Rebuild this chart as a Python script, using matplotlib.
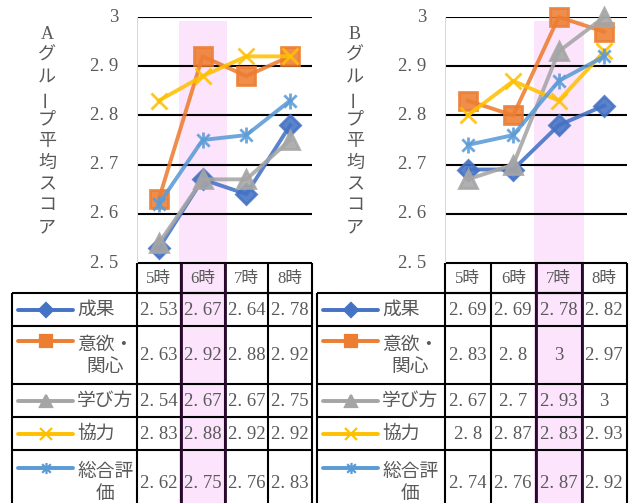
import numpy as np
import matplotlib.pyplot as plt
from matplotlib.path import Path
from matplotlib.patches import Rectangle

plt.rcParams['font.family'] = ['Liberation Serif', 'Noto Sans CJK JP', 'DejaVu Sans']

hours = ['5時', '6時', '7時', '8時']
names = ['成果', '意欲・\n関心', '学び方', '協力', '総合評\n価']

# group A
a_seika = [2.53, 2.67, 2.64, 2.78]
a_iyoku = [2.63, 2.92, 2.88, 2.92]
a_manabi = [2.54, 2.67, 2.67, 2.75]
a_kyoryoku = [2.83, 2.88, 2.92, 2.92]
a_sogo = [2.62, 2.75, 2.76, 2.83]

# group B
b_seika = [2.69, 2.69, 2.78, 2.82]
b_iyoku = [2.83, 2.8, 3, 2.97]
b_manabi = [2.67, 2.7, 2.93, 3]
b_kyoryoku = [2.8, 2.87, 2.83, 2.93]
b_sogo = [2.74, 2.76, 2.87, 2.92]

yticks = [2.5, 2.6, 2.7, 2.8, 2.9, 3.0]

asterisk = Path([(-1, -1), (1, 1), (-1, 1), (1, -1), (0, -1.3), (0, 1.3)],
                [Path.MOVETO, Path.LINETO, Path.MOVETO, Path.LINETO,
                 Path.MOVETO, Path.LINETO])
styles = [('#4472C4', 'D', 10.5),
          ('#ED7D31', 's', 12.5),
          ('#A5A5A5', '^', 13),
          ('#FFC000', 'x', 11.5),
          ('#5B9BD5', asterisk, 11.5)]

TXT = '#595959'
PINK = '#FCE4FC'
W, H = 630, 503
TOP, BOT = 17, 263          # pixel rows of 3.0 and 2.5
rows = [293, 326, 384, 417, 450, 514]

fig = plt.figure(figsize=(W / 100, H / 100), dpi=100)
ov = fig.add_axes([0, 0, 1, 1], zorder=0)
ov.set_xlim(0, W)
ov.set_ylim(H, 0)
ov.axis('off')


def fmt(v):
    return f'{v:g}'.replace('.', '. ')


def panel(x0, x1, left, hl, title, data):
    edges = np.linspace(x0, x1, 5)
    ov.add_patch(Rectangle((edges[hl] - 2, 21), edges[hl + 1] - edges[hl] + 4, 520,
                           color=PINK, lw=0, zorder=0))

    ax = fig.add_axes([x0 / W, 1 - BOT / H, (x1 - x0) / W, (BOT - TOP) / H], zorder=1)
    ax.patch.set_alpha(0)
    ax.set_xlim(0, 4)
    ax.set_ylim(2.5, 3.0)
    ax.axis('off')
    for yv in yticks[1:]:
        ax.axhline(yv, color='black', lw=1.5, zorder=1)
    ax.axvline(0, color='#D9D9D9', lw=1.5, zorder=1)
    for yv in yticks:
        ax.annotate(f'{yv:g}'.replace('.', '. '), xy=(0, yv), xytext=(-19, 0),
                    textcoords='offset pixels', ha='right', va='center',
                    fontsize=13.5, color=TXT, annotation_clip=False)

    xs = np.arange(4) + 0.5
    for vals, (c, m, ms) in zip(data, styles):
        ax.plot(xs, vals, color=c, lw=2.8, marker=m, ms=ms, mew=2,
                clip_on=False, alpha=0.88, zorder=3)

    # vertical axis title, one glyph per line
    for i, ch in enumerate(title):
        ov.text(x0 - 90, 34 + i * 21.5, ch, ha='center', va='center', fontsize=13,
                color=TXT, rotation=90 if ch == 'ー' else 0)

    # data table
    ov.hlines([BOT, rows[0]], x0, x1, color='black', lw=1.5, zorder=2)
    ov.hlines(rows[:-1], left, x1, color='black', lw=1.5, zorder=2)
    ov.vlines(edges, BOT, 520, color='black', lw=1.5, zorder=2)
    ov.vlines([left], rows[0], 520, color='black', lw=1.5, zorder=2)
    ov.vlines(edges[hl:hl + 2], BOT, 520, color='#2A0A2E', lw=2, zorder=3)
    for j, h in enumerate(hours):
        ov.text((edges[j] + edges[j + 1]) / 2, (BOT + rows[0]) / 2 + 1, h,
                ha='center', va='center', fontsize=12, color=TXT)

    for k, (vals, name, (c, m, ms)) in enumerate(zip(data, names, styles)):
        ymid = (rows[k] + rows[k + 1]) / 2
        nl = name.count('\n')
        ly = ymid - nl * 14
        ov.plot([left + 6, left + 61], [ly, ly], color=c, lw=2.8,
                solid_capstyle='round', zorder=3)
        ov.plot([left + 33.5], [ly], color=c, marker=m, ms=ms * 0.7, mew=1.6, zorder=3)
        ov.text(left + 65, ymid + 1, name, ha='left', va='center', ma='center',
                fontsize=13.5, color=TXT, linespacing=1.4)
        for j, v in enumerate(vals):
            ov.text((edges[j] + edges[j + 1]) / 2, ymid + 1, fmt(v),
                    ha='center', va='center', fontsize=13.5, color=TXT)


panel(137, 312, 12, 1, 'Aグループ平均スコア',
      [a_seika, a_iyoku, a_manabi, a_kyoryoku, a_sogo])
panel(445, 627, 317, 2, 'Bグループ平均スコア',
      [b_seika, b_iyoku, b_manabi, b_kyoryoku, b_sogo])

fig.savefig('out.png', dpi=100)
